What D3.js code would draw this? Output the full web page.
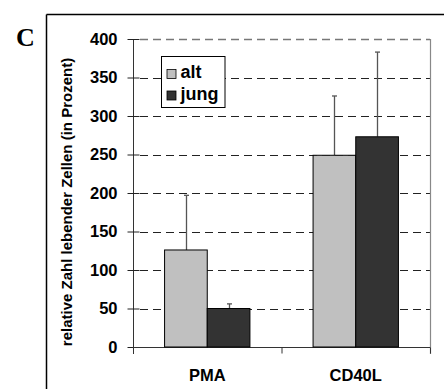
<!DOCTYPE html>
<html><head><meta charset="utf-8">
<script src="https://cdn.jsdelivr.net/npm/d3@7"></script>
<style>body{margin:0;background:#fff}svg{display:block}</style>
</head><body>
<script>
const categories = ["PMA", "CD40L"];
const seriesNames = ["alt", "jung"];
const altValues = [126, 249];
const jungValues = [50, 273];
const altErrors = [71, 77];
const jungErrors = [6, 110];
const yTicks = [0, 50, 100, 150, 200, 250, 300, 350, 400];
const colors = ["#c0c0c0", "#333333"];

(function () {
const W = 444, H = 389;
const svg = d3.select("body").append("svg").attr("width", W).attr("height", H);
const font = "'Liberation Sans', Arial, sans-serif";

// outer frame
svg.append("line").attr("x1", 46.5).attr("x2", W).attr("y1", 14.5).attr("y2", 14.5).attr("stroke", "#000").attr("stroke-width", 1.5);
svg.append("line").attr("x1", 46.5).attr("x2", 46.5).attr("y1", 14.5).attr("y2", H).attr("stroke", "#000").attr("stroke-width", 1.5);

svg.append("text").attr("x", 16).attr("y", 46).text("C")
  .attr("font-family", "'Liberation Serif', 'Times New Roman', serif").attr("font-weight", "bold").attr("font-size", 26);

const pl = 133, pr = 430, pt = 39, pb = 347;
const y = d3.scaleLinear().domain([0, 400]).range([pb, pt]);
const x0 = d3.scaleBand().domain(categories).range([pl, pr]).paddingInner(0).paddingOuter(0);
const x1 = d3.scaleBand().domain(seriesNames).range([0, x0.bandwidth()]).paddingInner(0).paddingOuter(0.74);

// gridlines
svg.append("g").selectAll("line").data(yTicks.filter(d => d > 0)).join("line")
  .attr("x1", pl + 7).attr("x2", pr).attr("y1", d => Math.round(y(d)) + 0.5).attr("y2", d => Math.round(y(d)) + 0.5)
  .attr("stroke", d => d === 400 ? "#777" : "#222").attr("stroke-width", d => d === 400 ? 1.5 : 1).attr("stroke-dasharray", "8,5");

// right border
svg.append("line").attr("x1", pr + 0.5).attr("x2", pr + 0.5).attr("y1", pt).attr("y2", pb + 7).attr("stroke", "#888").attr("stroke-width", 1.2);

// y axis
const yAxis = d3.axisLeft(y).tickValues(yTicks).tickSize(6).tickPadding(10);
const gy = svg.append("g").attr("transform", `translate(${pl + 0.5},0)`).call(yAxis);
gy.select(".domain").attr("stroke", "#333").attr("d", `M0,${pt}V${pb + 7}`);
gy.selectAll(".tick line").attr("x1", -6).attr("x2", 6).attr("stroke", "#222");
gy.selectAll(".tick text").attr("font-family", font).attr("font-weight", "bold").attr("font-size", 16.5).attr("fill", "#000");

// x axis
const gx = svg.append("g").attr("transform", `translate(0,${pb + 0.5})`);
gx.append("line").attr("x1", pl).attr("x2", pr).attr("stroke", "#333").attr("stroke-width", 1.2);
gx.selectAll(".tk").data([pl, pl + x0.bandwidth(), pr]).join("line").attr("class", "tk")
  .attr("x1", d => d + 0.5).attr("x2", d => d + 0.5).attr("y1", 0).attr("y2", 6).attr("stroke", "#333");
gx.selectAll(".cl").data(categories).join("text").attr("class", "cl")
  .attr("x", d => x0(d) + x0.bandwidth() / 2).attr("y", 33).attr("text-anchor", "middle")
  .attr("font-family", font).attr("font-weight", "bold").attr("font-size", 16.5).text(d => d);

// bars
const rows = categories.map((c, i) => [
  { cat: c, s: "alt", v: altValues[i], e: altErrors[i], col: colors[0] },
  { cat: c, s: "jung", v: jungValues[i], e: jungErrors[i], col: colors[1] }
]).flat();

const g = svg.append("g");
rows.forEach(d => {
  const cx = Math.round(x0(d.cat) + x1(d.s) + x1.bandwidth() / 2) + 0.5;
  g.append("line").attr("x1", cx).attr("x2", cx).attr("y1", y(d.v)).attr("y2", y(d.v + d.e)).attr("stroke", "#555").attr("stroke-width", 1.3);
  g.append("line").attr("x1", cx - 2.5).attr("x2", cx + 2.5).attr("y1", y(d.v + d.e)).attr("y2", y(d.v + d.e)).attr("stroke", "#555").attr("stroke-width", 1.3);
});
g.selectAll("rect").data(rows).join("rect")
  .attr("x", d => x0(d.cat) + x1(d.s)).attr("width", x1.bandwidth())
  .attr("y", d => y(d.v)).attr("height", d => y(0) - y(d.v))
  .attr("fill", d => d.col).attr("stroke", "#000").attr("stroke-width", 1);

// legend
const lg = svg.append("g").attr("transform", "translate(161.5,56.5)");
lg.append("rect").attr("width", 63.5).attr("height", 51).attr("fill", "#fff").attr("stroke", "#000");
seriesNames.forEach((n, i) => {
  lg.append("rect").attr("x", 5.5).attr("y", 13 + i * 21.5).attr("width", 9).attr("height", 9)
    .attr("fill", colors[i]).attr("stroke", "#000").attr("stroke-width", 0.8);
  lg.append("text").attr("x", 19).attr("y", 21.5 + i * 21.5).text(n)
    .attr("font-family", font).attr("font-weight", "bold").attr("font-size", 18);
});

// y axis title
svg.append("text").attr("transform", "translate(72,202) rotate(-90)").attr("text-anchor", "middle")
  .attr("font-family", font).attr("font-weight", "bold").attr("font-size", 15)
  .text("relative Zahl lebender Zellen (in Prozent)");
})();
</script>
</body></html>
